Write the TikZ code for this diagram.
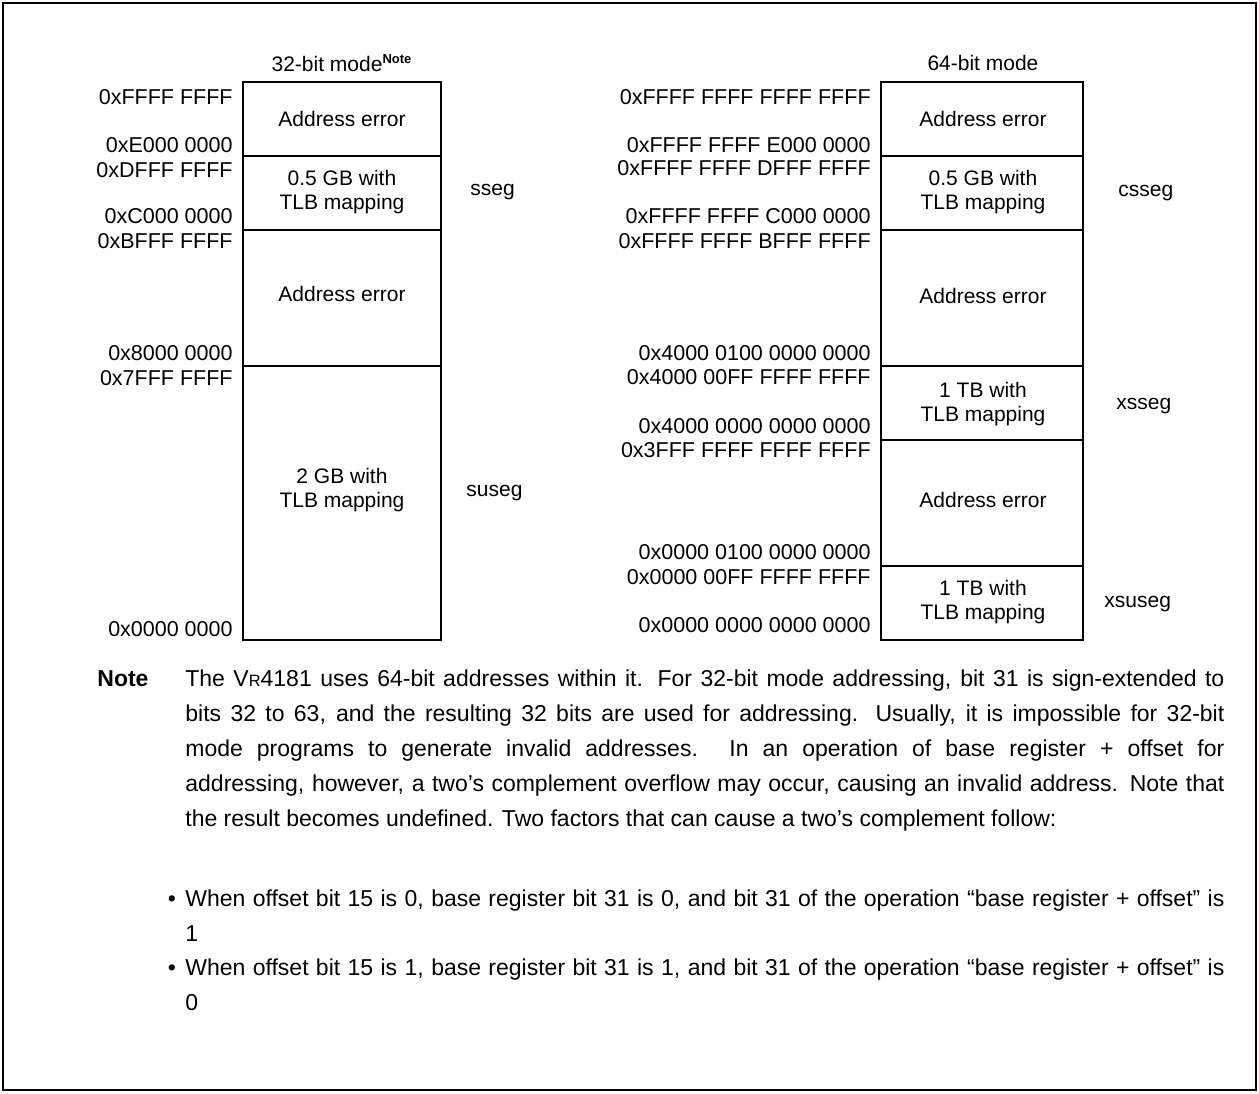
\documentclass[tikz,border=0pt]{standalone}
\usepackage{fontspec}
\setmainfont{Liberation Sans}
\newcommand{\txtsize}{\fontsize{10.5}{12}\selectfont}
\newcommand{\notesize}{\fontsize{11.5}{17.5}\selectfont}
\newcommand{\vr}{V{\fontsize{8.2}{9}\selectfont R}4181}
\begin{document}
\begin{tikzpicture}[x=0.5pt, y=-0.5pt, font=\txtsize,
  addr/.style={anchor=east, inner sep=0pt, font=\fontsize{10.75}{12}\selectfont},
  seglabel/.style={anchor=west, inner sep=0pt},
  inbox/.style={align=center, inner sep=0pt},
  notepar/.style={anchor=base west, inner sep=0pt, text width=519.5pt, align=justify, font=\notesize},
  mapframe/.style={line width=1.2pt},
  divider/.style={line width=0.6pt}]
\useasboundingbox (0,0) rectangle (1259,1093);
% outer frame
\draw[line width=0.9pt] (3,3) rectangle (1256,1090);

% 32-bit mode
\node[inbox] (title32) at (342,63) {32-bit mode\textsuperscript{\fontsize{6.5}{7}\selectfont\bfseries Note}};
\draw[mapframe] (243,82) rectangle (441,640);
\foreach \y in {156,230,366} \draw[divider] (243,\y) -- (441,\y);
\foreach \y/\t in {97/0xFFFF FFFF, 145/0xE000 0000, 170/0xDFFF FFFF, 216/0xC000 0000,
  241/0xBFFF FFFF, 353/0x8000 0000, 378/0x7FFF FFFF, 629/0x0000 0000}
  \node[addr] (a32-\y) at (233,\y) {\t};
\node[inbox] (err32a) at (342,119) {Address error};
\node[inbox] (tlb32a) at (342,192) {0.5 GB with\\TLB mapping};
\node[inbox] (err32b) at (342,294) {Address error};
\node[inbox] (tlb32b) at (342,490) {2 GB with\\TLB mapping};
\node[seglabel] (sseg) at (470,192) {sseg};
\node[seglabel] (suseg) at (466,493) {suseg};

% 64-bit mode
\node[inbox] (title64) at (983,63) {64-bit mode};
\draw[mapframe] (881,82) rectangle (1083,640);
\foreach \y in {156,230,366,440,566} \draw[divider] (881,\y) -- (1083,\y);
\foreach \y/\t in {97/0xFFFF FFFF FFFF FFFF, 145/0xFFFF FFFF E000 0000,
  168/0xFFFF FFFF DFFF FFFF, 216/0xFFFF FFFF C000 0000, 241/0xFFFF FFFF BFFF FFFF,
  353/0x4000 0100 0000 0000, 377/0x4000 00FF FFFF FFFF, 426/0x4000 0000 0000 0000,
  450/0x3FFF FFFF FFFF FFFF, 552/0x0000 0100 0000 0000, 577/0x0000 00FF FFFF FFFF,
  625/0x0000 0000 0000 0000}
  \node[addr] (a64-\y) at (871,\y) {\t};
\node[inbox] (err64a) at (983,119) {Address error};
\node[inbox] (tlb64a) at (983,192) {0.5 GB with\\TLB mapping};
\node[inbox] (err64b) at (983,296) {Address error};
\node[inbox] (tlb64b) at (983,404) {1 TB with\\TLB mapping};
\node[inbox] (err64c) at (983,500) {Address error};
\node[inbox] (tlb64c) at (983,602) {1 TB with\\TLB mapping};
\node[seglabel] (csseg) at (1118,193) {csseg};
\node[seglabel] (xsseg) at (1116,406) {xsseg};
\node[seglabel] (xsuseg) at (1104,604) {xsuseg};

% note
\node[anchor=base west, inner sep=0pt, font=\notesize\bfseries] (notehd) at (97,686) {Note};
\node[notepar] (notetxt) at (185,686)
  {The \vr{} uses 64-bit addresses within it.  For 32-bit mode addressing, bit 31 is sign-extended to\linebreak
   bits 32 to 63, and the resulting 32 bits are used for addressing.  Usually, it is impossible for 32-bit\linebreak
   mode programs to generate invalid addresses.  In an operation of base register + offset for\linebreak
   addressing, however, a two’s complement overflow may occur, causing an invalid address.  Note that\linebreak
   the result becomes undefined.  Two factors that can cause a two’s complement follow:};
\node[anchor=base, inner sep=0pt, font=\notesize] (dot1) at (172,906) {•};
\node[notepar] (item1) at (185,906)
  {When offset bit 15 is 0, base register bit 31 is 0, and bit 31 of the operation “base register + offset” is\linebreak 1};
\node[anchor=base, inner sep=0pt, font=\notesize] (dot2) at (172,975) {•};
\node[notepar] (item2) at (185,975)
  {When offset bit 15 is 1, base register bit 31 is 1, and bit 31 of the operation “base register + offset” is\linebreak 0};
\end{tikzpicture}
\end{document}
